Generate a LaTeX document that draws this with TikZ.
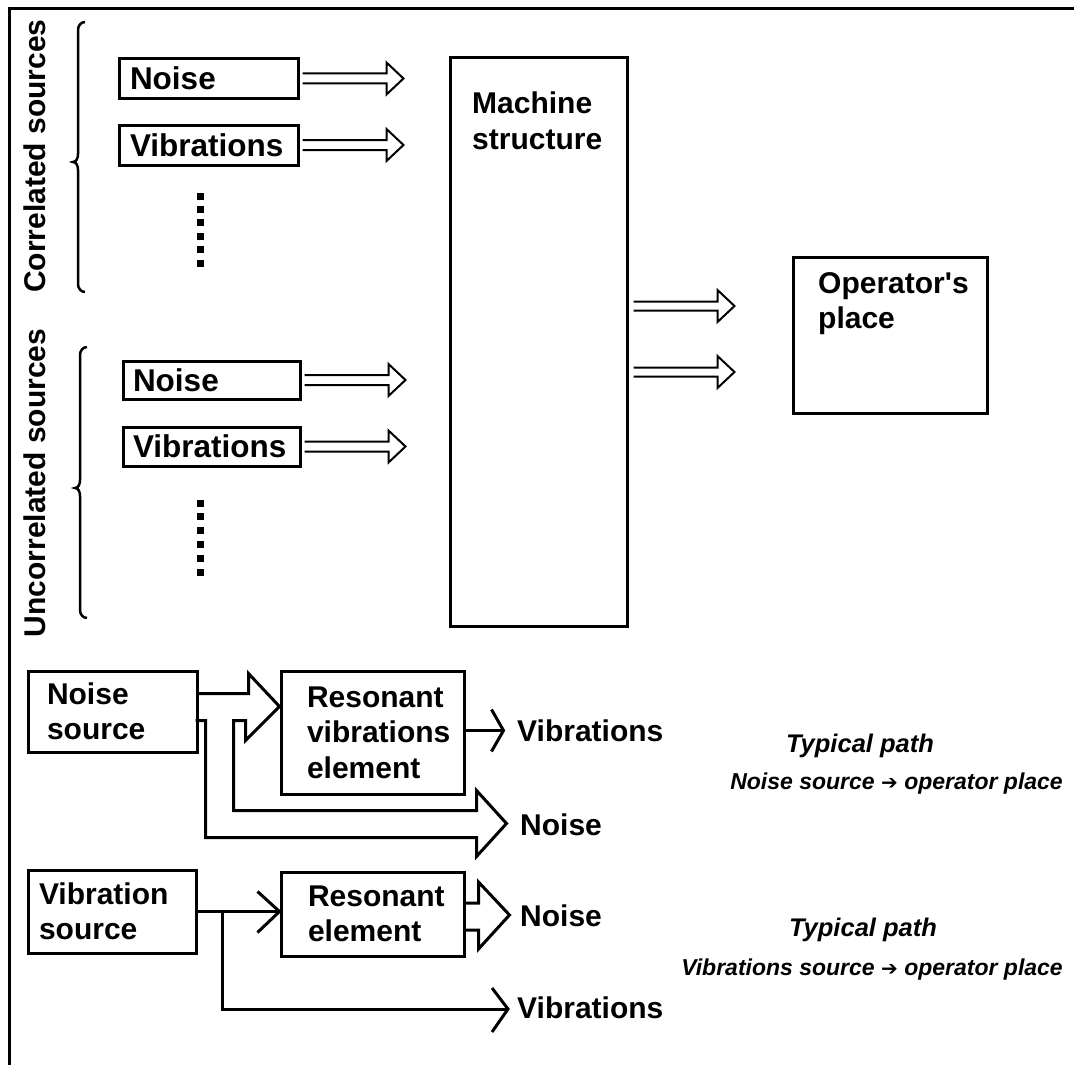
\documentclass[tikz,border=0pt]{standalone}
\usepackage{fontspec}
\setmainfont{Liberation Sans}
\newfontfamily\symfont{DejaVu Sans}
\usetikzlibrary{calc}
\begin{document}
\begin{tikzpicture}[x=1pt,y=-1pt,
  box/.style={draw, line width=3pt, align=left, inner ysep=0pt, font=\bfseries\fontsize{30}{35.5}\selectfont},
  bigbox/.style={box, font=\bfseries\fontsize{31.5}{36}\selectfont},
  lbl/.style={inner sep=0pt, font=\bfseries\fontsize{30}{35.5}\selectfont},
  ital/.style={inner sep=0pt, font=\bfseries\itshape\fontsize{23}{28}\selectfont},
  italbig/.style={inner sep=0pt, font=\bfseries\itshape\fontsize{25.5}{28}\selectfont},
  dbl/.style={line width=2pt, line join=miter},
  fat/.style={line width=3pt, line join=miter},
  brace/.style={line width=2.5pt},
  frame/.style={line width=3pt}]
\useasboundingbox (0,0) rectangle (1074,1065);

% frame
\draw[frame] (9,1065) -- (9,9) -- (1074,9);

% side labels
\node[lbl, rotate=90] (cs) at (35,156) {Correlated sources};
\node[lbl, rotate=90] (us) at (35,483) {Uncorrelated sources};

% braces
\draw[brace] (85,22) to[out=180,in=90] (78,30) -- (78,154) to[out=270,in=0] (73,162) to[out=0,in=90] (78,170) -- (78,284) to[out=270,in=180] (85,292);
\draw[brace] (87,347) to[out=180,in=90] (80,355) -- (80,480) to[out=270,in=0] (75,488) to[out=0,in=90] (80,496) -- (80,610) to[out=270,in=180] (87,618);

% source boxes
\node[bigbox, minimum width=179pt, minimum height=39pt, inner xsep=11pt, text width=157pt] (n1) at (208.5,78.5) {Noise};
\node[bigbox, minimum width=179pt, minimum height=40pt, inner xsep=11pt, text width=157pt] (v1) at (208.5,145) {Vibrations};
\node[bigbox, minimum width=177pt, minimum height=38pt, inner xsep=10pt, text width=157pt] (n2) at (211.5,380) {Noise};
\node[bigbox, minimum width=177pt, minimum height=39pt, inner xsep=10pt, text width=157pt] (v2) at (211.5,446.5) {Vibrations};

% dots
\foreach \i in {0,...,5} {
  \fill (196.5,{192.5+13.4*\i}) rectangle ++(7,7);
  \fill (196.5,{499.5+13.8*\i}) rectangle ++(7,7);
}

% machine structure
\node[box, minimum width=177pt, minimum height=568pt] (ms) at (538.5,342) {};
\node[lbl, align=left, anchor=north west] (mst) at (472,92) {Machine\\structure};

% operator's place
\node[box, minimum width=194pt, minimum height=156pt] (op) at (890,335) {};
\node[lbl, align=left, anchor=north west] (opt) at (818,272) {Operator\textquotesingle s\\place};

% double arrows into machine structure
\foreach \n in {n1,v1,n2,v2} {
  \draw[dbl] ($(\n.east)+(3,-5)$) -- ++(84,0) -- ++(0,-11) -- ++(17,16) -- ++(-17,16) -- ++(0,-11) -- ++(-84,0);
}
% double arrows to operator
\draw[dbl] ($(ms.east)+(5,-40.5)$) -- ++(84,0) -- ++(0,-11.5) -- ++(17,16) -- ++(-17,16) -- ++(0,-11.5) -- ++(-84,0);
\draw[dbl] ($(ms.east)+(5,25.5)$) -- ++(84,0) -- ++(0,-11.5) -- ++(17,16) -- ++(-17,16) -- ++(0,-11.5) -- ++(-84,0);

% bottom part: noise path
\node[box, minimum width=169pt, minimum height=81pt, inner xsep=19pt, text width=131pt] (ns) at (112.5,711.5) {Noise\\source};
\node[box, minimum width=183pt, minimum height=123pt, inner xsep=26pt, text width=131pt] (rv) at (372.5,732.5) {Resonant\\vibrations\\element};

\draw[fat] ($(ns.north east)+(0,24)$) -- ++(50,0) -- ++(0,-20) -- ($(rv.north west)+(0,37)$) -- ++(-34,34) -- ++(0,-20) -- ++(-12,0) -- ++(0,90) -- ++(243,0) -- ++(0,-20) -- ++(30,33) -- ++(-30,33) -- ++(0,-19) -- ++(-271,0) -- ++(0,-117) -- ++(-10,0);

\coordinate (rvend) at ($(rv.east)+(38,-2)$);
\draw[fat] (rv.east |- rvend) -- (rvend);
\draw[fat] ($(rvend)+(-12,-21)$) -- (rvend) -- ++(-12,21);
\node[lbl, anchor=west] (lv1) at (517,731) {Vibrations};
\node[lbl, anchor=west] (ln1) at (520,825) {Noise};

% bottom part: vibration path
\node[box, minimum width=168pt, minimum height=83pt, inner xsep=11pt, text width=146pt] (vs) at (112,911.5) {Vibration\\source};
\node[box, minimum width=183pt, minimum height=84pt, inner xsep=27pt, text width=129pt] (re) at (372.5,914) {Resonant\\element};

\draw[fat] (vs.east) -- (re.west |- vs.east);
\draw[fat] ($(re.west |- vs.east)+(-22,-20)$) -- (re.west |- vs.east) -- ++(-22,21);

\coordinate (br) at ($(vs.east)+(25,0)$);
\coordinate (vend) at (508,1009);
\draw[fat] (br) |- (vend);
\draw[fat] ($(vend)+(-16,-21)$) -- (vend) -- ++(-16,23);
\node[lbl, anchor=west] (lv2) at (517,1008) {Vibrations};

\draw[fat] ($(re.east)+(0,-11)$) -- ++(13,0) -- ++(0,-21) -- ++(31,33) -- ++(-31,34) -- ++(0,-19) -- ++(-13,0);
\node[lbl, anchor=west] (ln2) at (520,916) {Noise};

% typical path texts
\node[italbig, anchor=base] (tp1) at (860,752) {Typical path};
\node[ital, anchor=base east] (tp1b) at (1063,789) {Noise source {\symfont\fontsize{20}{20}\selectfont ➔} operator place};
\node[italbig, anchor=base] (tp2) at (863,936) {Typical path};
\node[ital, anchor=base east] (tp2b) at (1063,975) {Vibrations source {\symfont\fontsize{20}{20}\selectfont ➔} operator place};
\end{tikzpicture}
\end{document}
